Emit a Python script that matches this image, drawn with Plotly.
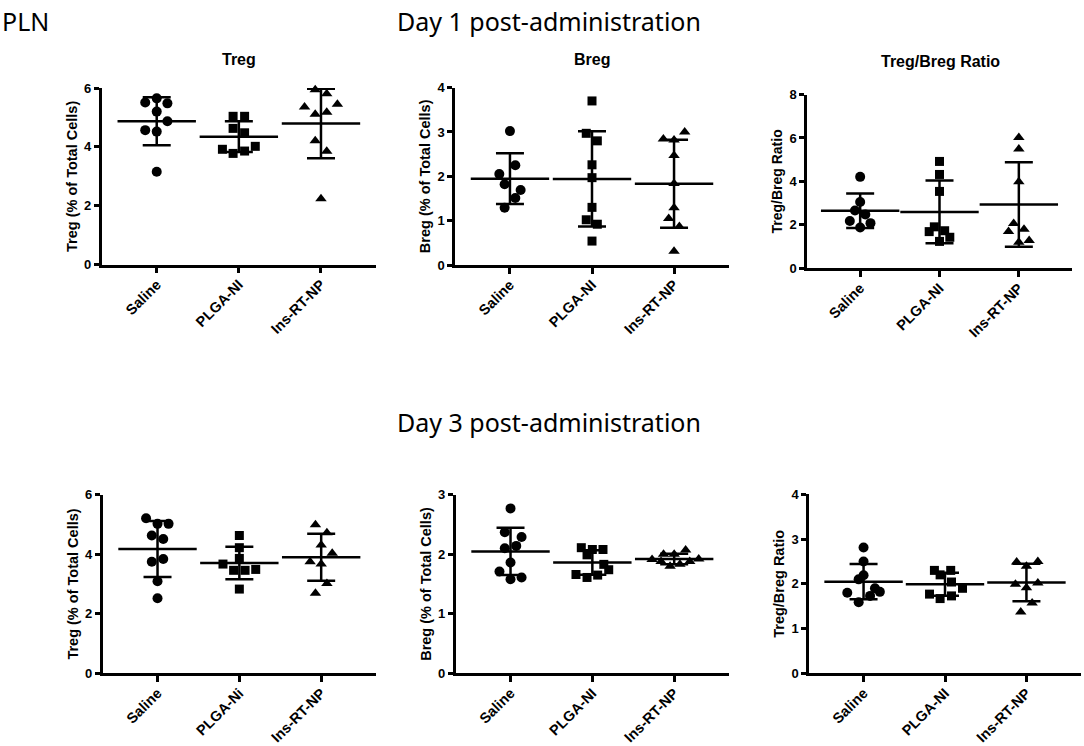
import numpy as np
import plotly.graph_objects as go

W, H = 1084, 746

groups = ["Saline", "PLGA-NI", "Ins-RT-NP"]
groups_d3_treg = ["Saline", "PLGA-Ni", "Ins-RT-NP"]
symbols = ["circle", "square", "triangle-up"]

# Day 1 - Treg (% of total cells)
d1_treg = [
    [5.65, 5.51, 5.48, 5.20, 4.87, 4.57, 4.52, 3.16],
    [5.04, 5.04, 4.63, 4.48, 4.02, 3.92, 3.86, 3.78],
    [5.94, 5.81, 5.45, 5.36, 5.18, 5.11, 4.21, 3.85, 2.24],
]
d1_treg_dx = [
    [0, -0.14, 0.13, 0, 0.13, -0.14, 0, 0],
    [-0.07, 0.07, -0.07, 0.07, 0.2, -0.2, 0.07, -0.07],
    [-0.07, 0.07, 0.2, -0.2, 0.07, -0.07, -0.07, 0.07, 0],
]

# Day 1 - Breg
d1_breg = [
    [3.02, 2.25, 2.05, 1.82, 1.69, 1.51, 1.29],
    [3.70, 2.97, 2.80, 2.26, 1.97, 1.30, 1.02, 0.92, 0.54],
    [3.00, 2.84, 2.82, 2.47, 1.84, 1.29, 1.05, 0.87, 0.31],
]
d1_breg_dx = [
    [0, 0.065, -0.13, -0.065, 0.13, 0.065, -0.065],
    [0, -0.07, 0.065, 0, 0, 0, -0.07, 0.065, 0],
    [0.13, -0.13, 0, 0, 0, 0, -0.065, 0.065, 0],
]

# Day 1 - Treg/Breg ratio
d1_ratio = [
    [4.21, 3.05, 2.66, 2.48, 2.18, 2.08, 1.88],
    [4.92, 4.32, 3.54, 1.91, 1.73, 1.69, 1.43, 1.24],
    [6.02, 5.49, 3.99, 2.06, 1.80, 1.69, 1.28, 1.20],
]
d1_ratio_dx = [
    [0, 0, -0.065, 0.065, -0.13, 0.13, 0],
    [0, 0, 0, -0.065, 0.065, -0.13, 0.13, 0],
    [0, 0, 0, -0.065, 0.065, -0.13, 0.13, 0],
]

# Day 3 - Treg
d3_treg = [
    [5.21, 5.02, 5.02, 4.63, 4.51, 3.84, 3.75, 3.09, 2.52],
    [4.63, 4.22, 3.86, 3.67, 3.49, 3.46, 3.46, 2.83],
    [4.99, 4.72, 4.31, 4.03, 3.75, 3.67, 3.02, 2.69],
]
d3_treg_dx = [
    [-0.14, 0, 0.135, -0.07, 0.07, 0.07, -0.07, 0, 0],
    [0, 0, 0, -0.2, 0.2, -0.07, 0.07, 0],
    [-0.07, 0.07, 0, 0.135, -0.135, 0, 0.07, -0.07],
]

# Day 3 - Breg
d3_breg = [
    [2.77, 2.37, 2.29, 2.14, 2.10, 1.86, 1.71, 1.61, 1.58],
    [2.11, 2.08, 2.08, 1.99, 1.83, 1.74, 1.66, 1.65, 1.61],
    [2.07, 2.00, 2.00, 1.92, 1.91, 1.88, 1.88, 1.83, 1.80],
]
d3_breg_dx = [
    [0, -0.07, 0.135, 0.07, -0.07, 0, -0.135, 0.135, 0],
    [-0.135, 0, 0.13, -0.065, 0.14, 0.2, -0.2, 0.065, -0.065],
    [0.14, -0.13, 0, 0.3, -0.27, -0.16, 0.19, 0.07, -0.05],
]

# Day 3 - Treg/Breg ratio
d3_ratio = [
    [2.81, 2.50, 2.19, 2.10, 1.90, 1.82, 1.80, 1.73, 1.59],
    [2.30, 2.30, 2.20, 2.04, 1.90, 1.77, 1.73, 1.67],
    [2.50, 2.49, 2.39, 2.02, 1.99, 1.91, 1.57, 1.37],
]
d3_ratio_dx = [
    [0, 0, 0, -0.06, 0.14, 0.2, -0.2, 0.08, -0.06],
    [-0.13, 0.07, -0.06, 0.08, 0.215, -0.19, 0.08, -0.06],
    [0.14, -0.12, 0, 0.14, -0.135, 0, 0.07, -0.07],
]

# panel layout in pixels: (x_left, x_right, y_bottom, y_top)
panels = [
    dict(data=d1_treg, dx=d1_treg_dx, box=(101.7, 376, 263, 82.7), ymax=6, dtick=2,
         ytitle="Treg (% of Total Cells)", tsize=14.5, labels=groups),
    dict(data=d1_breg, dx=d1_breg_dx, box=(455, 729, 263.3, 82.3), ymax=4, dtick=1,
         ytitle="Breg (% of Total Cells)", tsize=14.5, labels=groups),
    dict(data=d1_ratio, dx=d1_ratio_dx, box=(807, 1072, 266.7, 89.3), ymax=8, dtick=2,
         ytitle="Treg/Breg Ratio", tsize=14, labels=groups),
    dict(data=d3_treg, dx=d3_treg_dx, box=(102.7, 376, 680, 497.7), ymax=6, dtick=2,
         ytitle="Treg (% of Total Cells)", tsize=14.5, labels=groups_d3_treg),
    dict(data=d3_breg, dx=d3_breg_dx, box=(455.7, 729, 680, 497.7), ymax=3, dtick=1,
         ytitle="Breg (% of Total Cells)", tsize=14.5, labels=groups),
    dict(data=d3_ratio, dx=d3_ratio_dx, box=(809, 1081, 680, 497.3), ymax=4, dtick=1,
         ytitle="Treg/Breg Ratio", tsize=14.5, labels=groups),
]

FONT = "Liberation Sans"
TITLE_FONT = "Noto Sans"

fig = go.Figure()
layout = dict(width=W, height=H, margin=dict(l=0, r=0, t=0, b=0),
              paper_bgcolor="white", plot_bgcolor="white", showlegend=False)

for k, p in enumerate(panels):
    n = "" if k == 0 else str(k + 1)
    xa, ya = "x" + n, "y" + n
    for i, vals in enumerate(p["data"]):
        vals = np.array(vals)
        xs = [i + d for d in p["dx"][i]]
        fig.add_trace(go.Scatter(
            x=xs, y=vals, mode="markers", xaxis=xa, yaxis=ya, cliponaxis=False,
            marker=dict(symbol=symbols[i], size=[10, 9, 10][i], color="black",
                        line=dict(width=0)),
            hoverinfo="y"))
        # mean line with SD error bar
        m, sd = vals.mean(), vals.std(ddof=1)
        fig.add_trace(go.Scatter(
            x=[i], y=[m], mode="markers", xaxis=xa, yaxis=ya, cliponaxis=False,
            marker=dict(symbol="line-ew-open", size=56, color="black",
                        line=dict(width=2.5, color="black")),
            error_y=dict(type="data", array=[sd], visible=True, color="black",
                         thickness=2.5, width=14),
            hoverinfo="y"))
    x0, x1, yb, yt = p["box"]
    layout["xaxis" + n] = dict(
        domain=[x0 / W, x1 / W], anchor=ya, range=[-0.67, 2.67],
        tickvals=[0, 1, 2], ticktext=p["labels"], tickangle=-45,
        showline=True, linecolor="black", linewidth=2.5,
        ticks="outside", ticklen=6, tickwidth=2.5, tickcolor="black",
        ticklabelstandoff=-3,
        showgrid=False, zeroline=False,
        tickfont=dict(family=FONT, size=14.5, color="black", weight="bold"))
    layout["yaxis" + n] = dict(
        domain=[1 - yb / H, 1 - yt / H], anchor=xa, range=[0, p["ymax"]],
        tickmode="linear", tick0=0, dtick=p["dtick"],
        showline=True, linecolor="black", linewidth=2.5,
        ticks="outside", ticklen=5, tickwidth=2.5, tickcolor="black",
        showgrid=False, zeroline=False,
        tickfont=dict(family=FONT, size=13, color="black", weight="bold"),
        title=dict(text=p["ytitle"], standoff=4,
                   font=dict(family=FONT, size=p["tsize"], color="black", weight="bold")))


def ann(text, px, py, size, family, bold=False, xanchor="center"):
    return dict(text=text, x=px / W, y=1 - py / H, xref="paper", yref="paper",
                xanchor=xanchor, yanchor="middle", showarrow=False,
                font=dict(family=family, size=size, color="black",
                          weight="bold" if bold else "normal"))


layout["annotations"] = [
    ann("PLN", 0, 14, 25, TITLE_FONT, xanchor="left"),
    ann("Day 1 post-administration", 549, 14, 25, TITLE_FONT),
    ann("Day 3 post-administration", 549, 424, 25, TITLE_FONT),
    ann("Treg", 239, 54, 16, FONT, bold=True),
    ann("Breg", 592, 54, 16, FONT, bold=True),
    ann("Treg/Breg Ratio", 940, 56, 16, FONT, bold=True),
]

fig.update_layout(**layout)
# body margin off so the 1084x746 figure fills the window exactly
fig.write_html("out.html", config={"displayModeBar": False},
               post_script="document.body.style.margin='0';")
